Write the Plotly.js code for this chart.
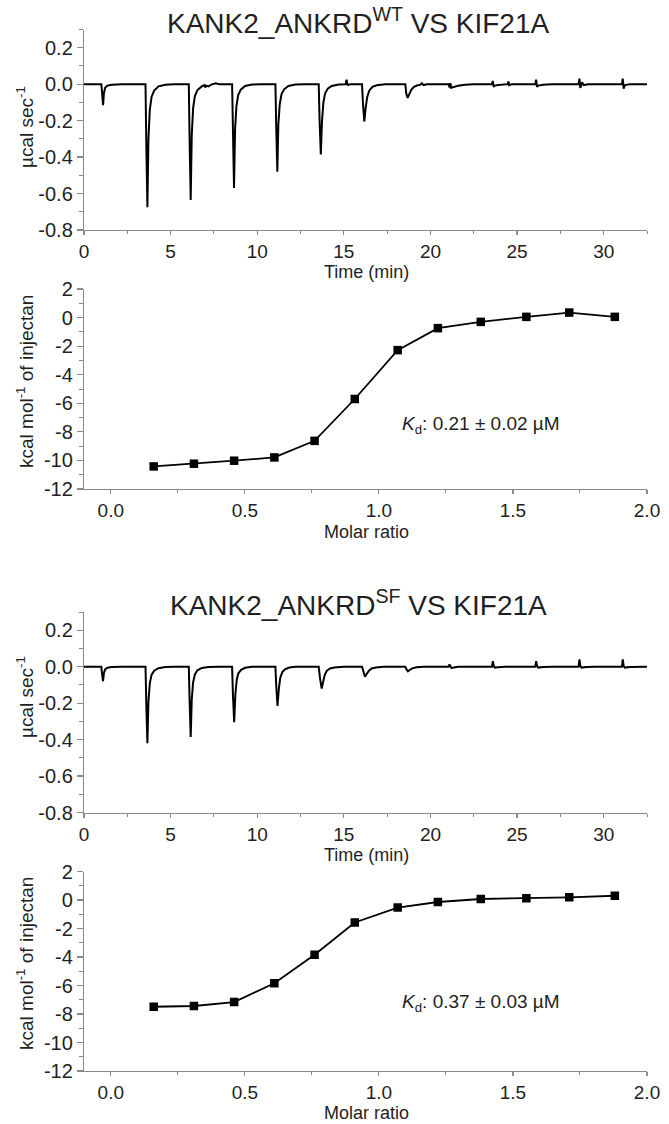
<!DOCTYPE html>
<html>
<head>
<meta charset="utf-8">
<script src="https://cdn.plot.ly/plotly-3.0.1.min.js"></script>
<style>html,body{margin:0;padding:0;background:#fff;}#chart{width:669px;height:1124px;}</style>
</head>
<body>
<div id="chart"></div>
<script>
// ---------- DATA ----------
const panelTitles = ['KANK2_ANKRD<sup>WT</sup> VS KIF21A', 'KANK2_ANKRD<sup>SF</sup> VS KIF21A'];
const kdLabels = ['<i>K</i><sub>d</sub>: 0.21 ± 0.02 µM', '<i>K</i><sub>d</sub>: 0.37 ± 0.03 µM'];

// Raw thermogram, WT (time in min, power in µcal/sec)
const wtTime = [
  0, 0.5, 1.0,
  1.03, 1.07, 1.1, 1.15, 1.22, 1.35, 1.6, 2.2,
  3.55, 3.6, 3.66, 3.72, 3.8, 3.9, 4.05, 4.3, 4.7, 5.2,
  6.05, 6.1, 6.16, 6.22, 6.3, 6.4, 6.55, 6.8, 6.95, 7.0, 7.05, 7.2, 7.35, 7.6, 7.8,
  8.55, 8.6, 8.66, 8.72, 8.8, 8.9, 9.05, 9.3, 9.7, 10.2,
  11.05, 11.1, 11.16, 11.22, 11.3, 11.4, 11.55, 11.8, 12.2, 12.7,
  13.55, 13.6, 13.67, 13.74, 13.82, 13.92, 14.07, 14.3, 14.7, 15.1,
  15.16, 15.2, 15.25, 15.35,
  16.05, 16.1, 16.18, 16.26, 16.35, 16.47, 16.65, 16.9, 17.4,
  18.55, 18.6, 18.68, 18.78, 18.9, 19.05, 19.25, 19.4, 19.5, 19.6, 19.8,
  21.05, 21.1, 21.15, 21.2, 21.35, 21.6, 22.0, 22.5,
  23.55, 23.6, 23.65, 23.72, 23.9, 24.2, 24.45, 24.5, 24.55, 24.7,
  26.05, 26.1, 26.15, 26.22, 26.5, 27.0,
  28.55, 28.6, 28.65, 28.75, 28.85, 29.1, 29.5,
  31.05, 31.1, 31.15, 31.22, 31.5, 32.5
];
const wtPower = [
  0, 0.002, 0,
  -0.03, -0.08, -0.115, -0.05, -0.02, -0.008, -0.003, 0,
  0, -0.35, -0.675, -0.3, -0.14, -0.07, -0.035, -0.012, -0.003, 0,
  0, -0.33, -0.635, -0.28, -0.13, -0.065, -0.032, -0.012, -0.005, -0.018, -0.008, -0.012, -0.002, 0.005, 0,
  0, -0.3, -0.57, -0.25, -0.12, -0.06, -0.03, -0.01, -0.002, 0,
  0, -0.25, -0.48, -0.22, -0.11, -0.055, -0.028, -0.01, -0.002, 0,
  0, -0.2, -0.385, -0.2, -0.1, -0.05, -0.025, -0.01, -0.002, 0,
  0.025, 0, -0.005, 0,
  0, -0.1, -0.205, -0.13, -0.07, -0.035, -0.015, -0.006, 0,
  0, -0.05, -0.075, -0.055, -0.03, -0.015, -0.006, -0.004, 0.005, -0.005, 0,
  0, -0.018, 0.005, -0.02, -0.015, -0.008, -0.003, 0,
  0, 0.018, -0.015, -0.008, -0.005, -0.002, 0, 0.015, -0.005, 0,
  0, 0.025, -0.015, -0.008, -0.003, 0,
  0, 0.03, -0.02, 0.01, -0.005, 0, 0,
  0, 0.03, -0.025, -0.005, 0, 0
];

// Raw thermogram, SF
const sfTime = [
  0, 0.5, 1.0,
  1.03, 1.07, 1.1, 1.15, 1.22, 1.35, 1.6, 2.2,
  3.55, 3.6, 3.66, 3.72, 3.8, 3.9, 4.05, 4.3, 4.7, 5.2,
  6.05, 6.1, 6.16, 6.22, 6.3, 6.4, 6.55, 6.8, 7.2, 7.8,
  8.55, 8.6, 8.67, 8.74, 8.82, 8.92, 9.07, 9.3, 9.7, 10.2,
  11.05, 11.1, 11.17, 11.25, 11.33, 11.45, 11.6, 11.85, 12.2, 12.7,
  13.55, 13.62, 13.72, 13.8, 13.9, 14.02, 14.2, 14.45, 15.0,
  16.05, 16.12, 16.22, 16.32, 16.45, 16.6, 16.85, 17.3,
  18.55, 18.62, 18.7, 18.8, 18.95, 19.2, 19.6,
  21.05, 21.1, 21.15, 21.22, 21.35, 21.6,
  23.55, 23.6, 23.65, 23.72, 23.9, 24.3,
  26.05, 26.1, 26.15, 26.22, 26.5, 27.0,
  28.55, 28.6, 28.65, 28.72, 29.0, 29.5,
  31.05, 31.1, 31.15, 31.22, 31.5, 32.5
];
const sfPower = [
  0, 0.002, 0,
  -0.03, -0.06, -0.08, -0.035, -0.015, -0.006, -0.002, 0,
  0, -0.22, -0.42, -0.19, -0.09, -0.045, -0.022, -0.008, -0.002, 0,
  0, -0.2, -0.385, -0.18, -0.085, -0.042, -0.02, -0.007, -0.002, 0,
  0, -0.16, -0.305, -0.15, -0.07, -0.035, -0.017, -0.006, -0.001, 0,
  0, -0.11, -0.215, -0.12, -0.06, -0.03, -0.014, -0.005, -0.001, 0,
  0, -0.06, -0.12, -0.085, -0.045, -0.022, -0.01, -0.004, 0,
  0, -0.03, -0.055, -0.04, -0.022, -0.01, -0.004, 0,
  0, -0.015, -0.025, -0.018, -0.009, -0.003, 0,
  0, 0.012, 0.002, -0.008, -0.004, 0,
  0, 0.03, 0.005, -0.005, -0.003, 0,
  0, 0.03, 0.005, -0.005, -0.002, 0,
  0, 0.04, 0.005, -0.005, -0.002, 0,
  0, 0.04, 0.005, -0.005, -0.002, 0
];

// Integrated heats (molar ratio vs kcal/mol of injectant)
const molarRatio = [0.16, 0.31, 0.46, 0.61, 0.76, 0.91, 1.07, 1.22, 1.38, 1.55, 1.71, 1.88];
const wtHeat = [-10.42, -10.23, -10.02, -9.79, -8.63, -5.70, -2.28, -0.74, -0.30, 0.05, 0.35, 0.05];
const sfHeat = [-7.49, -7.44, -7.16, -5.84, -3.84, -1.58, -0.53, -0.14, 0.07, 0.12, 0.19, 0.30];

// Tick labels
const timeTickVals = [0, 5, 10, 15, 20, 25, 30];
const timeTickText = ['0', '5', '10', '15', '20', '25', '30'];
const powerTickVals = [-0.8, -0.6, -0.4, -0.2, 0.0, 0.2];
const powerTickText = ['-0.8', '-0.6', '-0.4', '-0.2', '0.0', '0.2'];
const ratioTickVals = [0, 0.5, 1.0, 1.5, 2.0];
const ratioTickText = ['0.0', '0.5', '1.0', '1.5', '2.0'];
const heatTickVals = [-12, -10, -8, -6, -4, -2, 0, 2];
const heatTickText = ['-12', '-10', '-8', '-6', '-4', '-2', '0', '2'];

// ---------- LAYOUT ----------
const W = 669, H = 1124, ML = 84, MR = 22;
const PW = W - ML - MR;
const px2x = p => (p - ML) / PW;
const px2y = p => 1 - p / H;
const FONT = 'Liberation Sans, Arial, Helvetica, sans-serif';
const TXT = '#231f20';
const AX = '#8a8a8a';

function axisBase(extra) {
  return Object.assign({
    showline: true, linecolor: AX, linewidth: 1.2,
    ticks: 'outside', ticklen: 6, tickwidth: 1.2, tickcolor: AX,
    showgrid: false, zeroline: false, fixedrange: true,
    tickmode: 'array',
    tickfont: {family: FONT, size: 20, color: TXT}
  }, extra);
}

// vertical pixel extents of the 4 plot areas
const P = [[29.5, 230], [289, 489], [612, 812.5], [871.5, 1071]];
const dom = i => [px2y(P[i][1]), px2y(P[i][0])];

const lineStyle = {color: '#000', width: 2};
const data = [
  {x: wtTime, y: wtPower, type: 'scatter', mode: 'lines', line: lineStyle, xaxis: 'x', yaxis: 'y', hoverinfo: 'skip'},
  {x: molarRatio, y: wtHeat, type: 'scatter', mode: 'lines+markers', line: {color: '#000', width: 1.8},
   marker: {symbol: 'square', size: 8.5, color: '#000'}, xaxis: 'x2', yaxis: 'y2', hoverinfo: 'skip'},
  {x: sfTime, y: sfPower, type: 'scatter', mode: 'lines', line: lineStyle, xaxis: 'x3', yaxis: 'y3', hoverinfo: 'skip'},
  {x: molarRatio, y: sfHeat, type: 'scatter', mode: 'lines+markers', line: {color: '#000', width: 1.8},
   marker: {symbol: 'square', size: 8.5, color: '#000'}, xaxis: 'x4', yaxis: 'y4', hoverinfo: 'skip'}
];

const xTickFont = {family: FONT, size: 19, color: TXT};

function timeAxis(anchor) {
  return axisBase({anchor: anchor, domain: [0, 1], range: [0, 32.5], tickvals: timeTickVals, ticktext: timeTickText,
    ticklen: 4, tickfont: xTickFont,
    minor: {ticks: 'outside', tickmode: 'linear', tick0: 0, dtick: 2.5, ticklen: 3, tickcolor: AX, tickwidth: 1}});
}
function powerAxis(anchor, i) {
  return axisBase({anchor: anchor, domain: dom(i), range: [-0.8, 0.3], tickvals: powerTickVals, ticktext: powerTickText,
    minor: {ticks: 'outside', tickmode: 'linear', tick0: 0, dtick: 0.1, ticklen: 3.5, tickcolor: AX, tickwidth: 1}});
}
function ratioAxis(anchor) {
  return axisBase({anchor: anchor, domain: [0, 1], range: [-0.1, 2.0], tickvals: ratioTickVals, ticktext: ratioTickText,
    ticklen: 4, tickfont: xTickFont,
    minor: {ticks: 'outside', tickmode: 'linear', tick0: 0, dtick: 0.25, ticklen: 3, tickcolor: AX, tickwidth: 1}});
}
function heatAxis(anchor, i) {
  return axisBase({anchor: anchor, domain: dom(i), range: [-12, 2], tickvals: heatTickVals, ticktext: heatTickText,
    minor: {ticks: 'outside', tickmode: 'linear', tick0: 0, dtick: 1, ticklen: 3.5, tickcolor: AX, tickwidth: 1}});
}

function txt(text, xp, yp, size, extra) {
  return Object.assign({text: text, xref: 'paper', yref: 'paper', x: px2x(xp), y: px2y(yp),
    xanchor: 'center', yanchor: 'middle', showarrow: false,
    font: {family: FONT, size: size, color: TXT}}, extra || {});
}

const annotations = [
  txt(panelTitles[0], 358, 21, 28),
  txt(panelTitles[1], 358, 603, 28),
  txt('Time (min)', 366, 272, 18),
  txt('Time (min)', 366, 855, 18),
  txt('Molar ratio', 366, 532, 18),
  txt('Molar ratio', 366, 1113, 18),
  txt('µcal sec<sup>-1</sup>', 25, 127, 19, {textangle: -90}),
  txt('µcal sec<sup>-1</sup>', 25, 697, 19, {textangle: -90}),
  txt('kcal mol<sup>-1</sup> of injectan', 25, 382, 19, {textangle: -90}),
  txt('kcal mol<sup>-1</sup> of injectan', 25, 964, 19, {textangle: -90}),
  {text: kdLabels[0], xref: 'x2', yref: 'y2', x: 1.08, y: -7.5, xanchor: 'left', yanchor: 'middle', showarrow: false,
   font: {family: FONT, size: 19, color: TXT}},
  {text: kdLabels[1], xref: 'x4', yref: 'y4', x: 1.08, y: -7.2, xanchor: 'left', yanchor: 'middle', showarrow: false,
   font: {family: FONT, size: 19, color: TXT}}
];

const layout = {
  width: W, height: H,
  margin: {l: ML, r: MR, t: 0, b: 0, pad: 0},
  paper_bgcolor: '#fff', plot_bgcolor: '#fff',
  showlegend: false,
  font: {family: FONT, color: TXT},
  xaxis: timeAxis('y'),
  yaxis: powerAxis('x', 0),
  xaxis2: ratioAxis('y2'),
  yaxis2: heatAxis('x2', 1),
  xaxis3: timeAxis('y3'),
  yaxis3: powerAxis('x3', 2),
  xaxis4: ratioAxis('y4'),
  yaxis4: heatAxis('x4', 3),
  annotations: annotations
};

Plotly.newPlot('chart', data, layout, {staticPlot: true, displayModeBar: false});
</script>
</body>
</html>
